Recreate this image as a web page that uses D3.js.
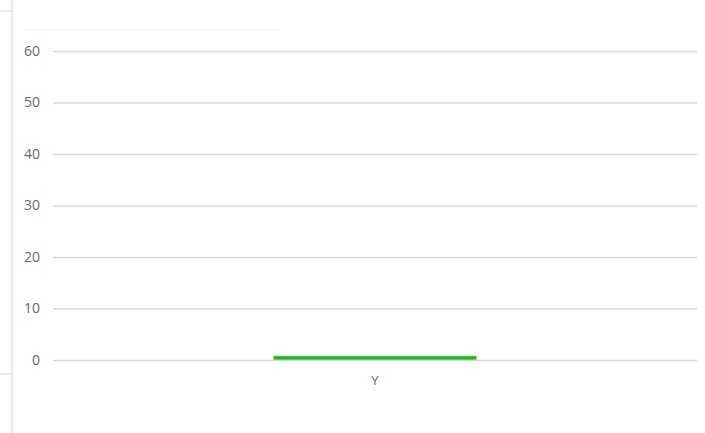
<!DOCTYPE html>
<html lang="en">
<head>
  <meta charset="UTF-8">
  <title>Chart</title>
  <style>
    body { margin: 0; background: #fff; }
    svg text { font-family: "Open Sans", "Noto Sans", sans-serif; }
  </style>
</head>
<body>
<svg width="705" height="433"></svg>
<script src="https://cdn.jsdelivr.net/npm/d3@7/dist/d3.min.js"></script>
<script>
  var categories = ['Y'];
  var values = [0.8];
  var yTicks = [0, 10, 20, 30, 40, 50, 60];

  var svg = d3.select('svg');
  var marge = {top: 51, bottom: 73, left: 53, right: 8};
  var width = +svg.attr('width'), height = +svg.attr('height');

  // frame bits on the left (spreadsheet panel edge)
  svg.append('line').attr('x1', 12).attr('x2', 12).attr('y1', 0).attr('y2', height)
    .attr('stroke', '#e2e2e2').attr('stroke-width', 1.5);
  svg.append('line').attr('x1', 0).attr('x2', 12).attr('y1', 11).attr('y2', 11)
    .attr('stroke', '#e2e2e2').attr('stroke-width', 1.5);
  svg.append('line').attr('x1', 0).attr('x2', 12).attr('y1', 374).attr('y2', 374)
    .attr('stroke', '#e2e2e2').attr('stroke-width', 1.5);
  svg.append('line').attr('x1', 25).attr('x2', 280).attr('y1', 30).attr('y2', 30)
    .attr('stroke', '#f6f6f6').attr('stroke-width', 1.5);

  var xScale = d3.scaleBand().domain(categories).range([marge.left, width - marge.right]).padding(0.52);
  var yScale = d3.scaleLinear().domain([0, 60]).range([height - marge.bottom, marge.top]);

  // gridlines + labels
  var yAxis = d3.axisLeft(yScale).tickValues(yTicks)
    .tickSize(-(width - marge.left - marge.right)).tickPadding(13);
  var gy = svg.append('g').attr('transform', `translate(${marge.left}, 0)`).call(yAxis);
  gy.select('.domain').remove();
  gy.selectAll('.tick line').attr('stroke', '#d9d9d9').attr('stroke-width', 1.3);
  gy.selectAll('.tick text').attr('fill', '#666').style('font-size', '14px');

  // bars
  svg.selectAll('rect.bar').data(values).enter().append('rect')
    .attr('class', 'bar')
    .attr('x', function (d, i) { return xScale(categories[i]); })
    .attr('y', function (d) { return yScale(d); })
    .attr('width', xScale.bandwidth())
    .attr('height', function (d) { return yScale(0) - yScale(d); })
    .attr('fill', '#1aaf48')
    .attr('stroke', '#d6ef6a')
    .attr('stroke-width', 0.8);

  // category axis
  var xAxis = d3.axisBottom(xScale).tickSize(0).tickPadding(16);
  var gx = svg.append('g').attr('transform', `translate(0, ${yScale(0)})`).call(xAxis);
  gx.select('.domain').remove();
  gx.selectAll('.tick text').attr('fill', '#666').style('font-size', '13px');
</script>
</body>
</html>
